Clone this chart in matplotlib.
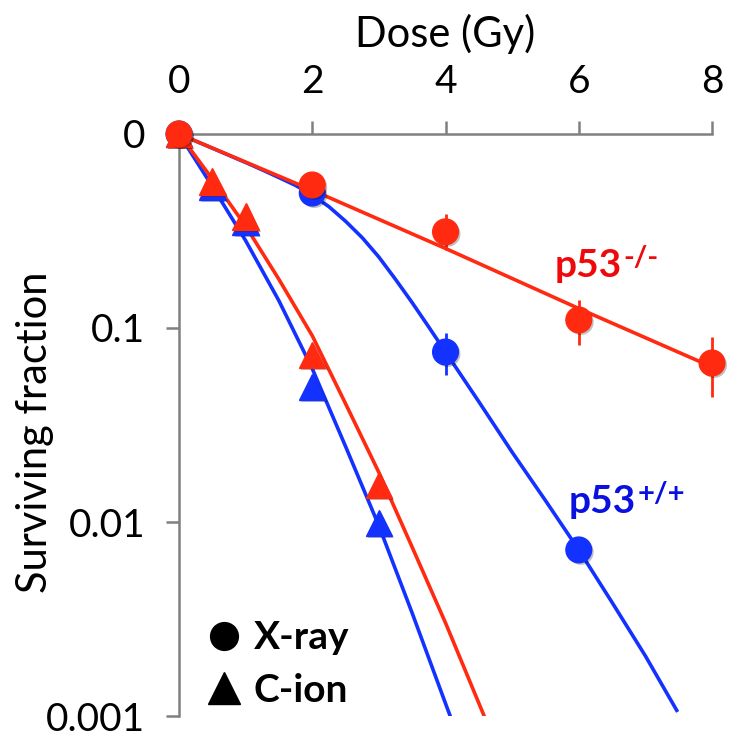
import matplotlib
matplotlib.use("Agg")
import numpy as np
import matplotlib.pyplot as plt
import matplotlib.patheffects as pe
from matplotlib.lines import Line2D
from matplotlib.ticker import NullLocator

plt.rcParams['font.family'] = ['Lato', 'DejaVu Sans']

# measured points (dose in Gy, surviving fraction)
dose_xray_ko = [0, 2, 4, 6, 8]
sf_xray_ko = [1.0, 0.546, 0.313, 0.110, 0.066]
sf_xray_ko_lo = [1.0, 0.546, 0.252, 0.082, 0.044]
sf_xray_ko_hi = [1.0, 0.546, 0.387, 0.139, 0.090]

dose_xray_wt = [0, 2, 4, 6]
sf_xray_wt = [1.0, 0.496, 0.0752, 0.00718]
sf_xray_wt_lo = [1.0, 0.496, 0.0573, 0.00718]
sf_xray_wt_hi = [1.0, 0.496, 0.0942, 0.00718]

dose_ion = [0, 0.5, 1, 2, 3]
sf_ion_ko = [1.0, 0.568, 0.375, 0.0726, 0.0155]
sf_ion_wt = [1.0, 0.535, 0.353, 0.0497, 0.0099]

# fitted curves
fit_dose_xray_ko = [0, 2, 4, 6, 8]
fit_sf_xray_ko = [1.0, 0.513, 0.257, 0.126, 0.063]

fit_dose_xray_wt = [0, 0.5, 1, 1.25, 1.5, 1.75, 2, 2.25, 2.5, 2.75, 3, 3.25, 3.5, 3.75,
                    4, 4.5, 5, 5.5, 6, 6.5, 7, 7.47]
fit_sf_xray_wt = [1.0, 0.845, 0.713, 0.653, 0.596, 0.543, 0.484, 0.422, 0.355, 0.292,
                  0.232, 0.178, 0.135, 0.101, 0.0752, 0.0417, 0.0229, 0.0129, 0.00718,
                  0.00385, 0.00204, 0.00107]

fit_dose_ion_ko = [0, 0.5, 1, 1.5, 2, 2.5, 3, 3.5, 4, 4.58]
fit_sf_ion_ko = [1.0, 0.586, 0.335, 0.178, 0.0912, 0.0407, 0.0180, 0.00741, 0.00302, 0.001]

fit_dose_ion_wt = [0, 0.5, 1, 1.5, 2, 2.5, 3, 3.5, 4, 4.07]
fit_sf_ion_wt = [1.0, 0.537, 0.282, 0.138, 0.0617, 0.0245, 0.00955, 0.00339, 0.00116, 0.001]

x_ticks = [0, 2, 4, 6, 8]
y_ticks = [1, 0.1, 0.01, 0.001]
y_labels = ['0', '0.1', '0.01', '0.001']

red = '#ff2a10'
blue = '#1432ff'
gray = '#808080'
shadow = [pe.SimplePatchShadow(offset=(1.5, -1.5), shadow_rgbFace='k', alpha=0.25), pe.Normal()]

fig = plt.figure(figsize=(7.41, 7.41), dpi=100)
ax = fig.add_axes([0.2416, 0.0337, 0.7193, 0.7855])

# curves
ax.plot(fit_dose_xray_wt, fit_sf_xray_wt, color=blue, lw=2.6, zorder=2)
ax.plot(fit_dose_ion_wt, fit_sf_ion_wt, color=blue, lw=2.6, zorder=2)
ax.plot(fit_dose_ion_ko, fit_sf_ion_ko, color=red, lw=2.6, zorder=2)
ax.plot(fit_dose_xray_ko, fit_sf_xray_ko, color=red, lw=2.6, zorder=2)

# error bars
wt = np.array(sf_xray_wt)
ax.errorbar(dose_xray_wt, wt, yerr=[wt - np.array(sf_xray_wt_lo), np.array(sf_xray_wt_hi) - wt],
            fmt='none', ecolor=blue, elinewidth=2, capsize=0, zorder=3, clip_on=False)
ko = np.array(sf_xray_ko)
ax.errorbar(dose_xray_ko, ko, yerr=[ko - np.array(sf_xray_ko_lo), np.array(sf_xray_ko_hi) - ko],
            fmt='none', ecolor=red, elinewidth=2, capsize=0, zorder=3, clip_on=False)

# markers
ax.plot(dose_ion, sf_ion_wt, '^', color=blue, ms=19, zorder=4, clip_on=False, path_effects=shadow)
ax.plot(dose_ion, sf_ion_ko, '^', color=red, ms=19, zorder=5, clip_on=False, path_effects=shadow)
ax.plot(dose_xray_wt, sf_xray_wt, 'o', color=blue, ms=18.5, zorder=4, clip_on=False, path_effects=shadow)
ax.plot(dose_xray_ko, sf_xray_ko, 'o', color=red, ms=18.5, zorder=6, clip_on=False, path_effects=shadow)

# genotype labels with superscripts
t1 = ax.text(5.64, 0.183, 'p53', color='#ee0a0a', fontsize=28, fontweight='bold')
ax.annotate('-/-', xy=(1, 0.5), xycoords=t1, xytext=(1, 0), textcoords='offset points',
            color='#ee0a0a', fontsize=21, fontweight='bold', va='baseline')
t2 = ax.text(5.85, 0.0111, 'p53', color='#0a10e0', fontsize=28, fontweight='bold')
ax.annotate('+/+', xy=(1, 0.5), xycoords=t2, xytext=(1, 0), textcoords='offset points',
            color='#0a10e0', fontsize=21, fontweight='bold', va='baseline')

handles = [Line2D([], [], marker='o', color='black', ls='none', markersize=20),
           Line2D([], [], marker='^', color='black', ls='none', markersize=23)]
ax.legend(handles, ['X-ray', 'C-ion'], loc='lower left', bbox_to_anchor=(0.049, 0.014),
          frameon=False, prop={'family': 'Lato', 'weight': 'bold', 'size': 28},
          handlelength=0.95, handletextpad=0.3, labelspacing=0.45, borderpad=0, borderaxespad=0)

ax.set_yscale('log')
ax.set_xlim(0, 8)
ax.set_ylim(0.001, 1)
ax.xaxis.tick_top()
ax.xaxis.set_label_position('top')
ax.set_xticks(x_ticks)
ax.set_yticks(y_ticks)
ax.set_yticklabels(y_labels)
ax.yaxis.set_minor_locator(NullLocator())
for s in ['right', 'bottom']:
    ax.spines[s].set_visible(False)
for s in ['top', 'left']:
    ax.spines[s].set_color(gray)
    ax.spines[s].set_linewidth(1.8)
ax.tick_params(axis='both', length=9.4, width=1.8, color=gray, pad=15, labelsize=28)
ax.set_xlabel('Dose (Gy)', fontsize=30, labelpad=12)
ax.set_ylabel('Surviving fraction', fontsize=30)
ax.yaxis.set_label_coords(-0.235, 0.488)

fig.savefig('out.png', dpi=100)
